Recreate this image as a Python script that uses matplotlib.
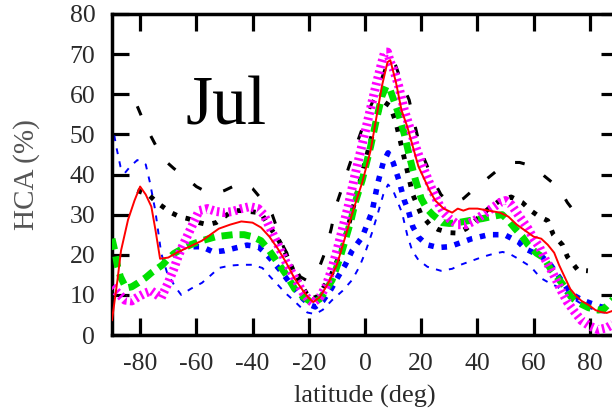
import matplotlib
matplotlib.use("Agg")
import matplotlib.pyplot as plt

plt.rcParams['font.family'] = ['Liberation Serif', 'DejaVu Serif']
plt.rcParams['axes.unicode_minus'] = False

# --- zonal-mean high-cloud amount, July ---
red_lat = [-90, -88, -86.8, -84.3, -82, -80, -78, -76, -74.5, -72.9, -70, -67, -64, -61,
           -58, -55, -52, -48, -44, -40, -37, -34, -31, -28, -25, -22, -20, -18.4, -16,
           -13, -10, -7, -4, -1, 2, 4, 6, 8, 9, 11, 13, 15, 17, 19, 21, 23, 25, 28, 31,
           33, 35, 37, 40, 44, 48, 51, 54, 57, 60, 62.7, 65, 67.3, 69, 71, 73, 75, 77,
           79.5, 82, 84, 86, 88, 90]
red_val = [3.7, 14, 21, 28.7, 33.5, 37, 35, 32, 26, 19, 19.3, 20.5, 21.5, 22.5,
           23.5, 25, 26.5, 27.5, 28.3, 28, 26.8, 24.5, 21.5, 18, 14, 11, 9.2, 8.2, 9.5,
           13, 17.5, 24.5, 31.5, 38, 46, 54, 62, 68, 68.5, 63, 56, 52, 47, 42, 39, 36,
           33.5, 31.5, 30.5, 31.5, 31, 31.5, 31.5, 31, 30.5, 29.5, 27.5, 26, 24.5, 24,
           22.5, 20.5, 17.5, 14.5, 11.5, 9.8, 8.5, 7.5, 6.2, 5.7, 5.5, 6, 6.5]

mag_lat = [-90, -88, -85.4, -83, -80.7, -78, -76, -74, -72.5, -70, -68, -66.5, -65, -63,
           -61, -59, -56, -53, -50, -47, -44, -41, -38, -36, -34, -32, -30, -28, -26,
           -24, -22, -20, -18.5, -16, -14, -12, -10, -8, -6, -4, -2, 0, 2, 4, 6, 7, 8,
           9, 10, 12, 14, 16, 18, 20, 22, 24, 26, 28, 30, 33, 36, 39, 42, 45, 48, 50,
           52, 54, 56, 58, 60, 62, 64, 66, 68, 70, 72, 74.5, 77, 80, 83, 86, 88, 90]
mag_val = [12, 10.5, 8.7, 8.5, 9.5, 10.5, 11, 10, 9.3, 13, 16.5, 19.5, 22, 25,
           28, 31, 31.5, 30.8, 30.5, 30.8, 31.5, 32, 31.5, 30, 27, 24, 21, 18, 15.5,
           13, 10.5, 8.8, 8, 9.5, 12, 16, 21, 26.5, 32, 38.5, 44.5, 50.5, 56.5, 62.5,
           68, 70.5, 70.5, 68, 66.5, 62, 56, 51.5, 47, 43, 39.5, 36, 33, 30.5, 29,
           27.5, 27.5, 28.5, 30, 31.5, 33, 33.5, 32.5, 30.5, 28.5, 26.5, 24, 22, 19,
           16.5, 13.8, 10.8, 8.2, 5.8, 3.6, 2.2, 1.3, 1.8, 2.6, 3.5]

grn_lat = [-90, -89, -88, -87, -85, -83, -80.7, -78, -76, -74, -72, -70, -68, -65, -62,
           -58, -53, -47, -43, -40, -37, -34, -31, -28, -25, -22, -20, -18.6, -16, -14,
           -11.7, -9, -7, -5, -3.5, -1, 2, 4, 6, 7.5, 9, 10.5, 12, 14, 16, 18, 20, 22,
           24, 27.5, 30, 33, 37, 41.7, 45, 48.8, 51, 53.4, 56, 58, 61, 63.7, 66, 68.5,
           71, 73.3, 76, 79.5, 83, 85, 87, 89, 90]
grn_val = [24, 21, 17, 14.5, 11.7, 12, 13, 14.3, 15.5, 16.5, 17.5, 19, 20.3, 21.5, 22.5,
           23.5, 24.5, 25, 25, 24.5, 23.5, 21, 18, 15, 11.5, 9.5, 8.6, 8, 9, 11,
           13.7, 19, 23.7, 28.5, 33, 38.6, 47, 53.5, 59.5, 62, 61, 58, 55, 50, 44, 38.5,
           34, 31.5, 30, 28, 27.8, 28, 28.5, 29, 29.5, 30, 28.5, 26.5, 24.5, 22.5, 20.4,
           19.2, 16.5, 14.3, 12, 9.5, 8, 6.8, 6.2, 6.5, 8, 9.5, 10]

bth_lat = [-61, -58, -54, -50, -46, -42, -38, -36, -33, -30, -27.5, -25, -22, -19.5,
           -17.7, -15, -12, -9.6, -7, -4.6, -1, 1, 2.5, 4.6, 6.5, 8.2, 10, 12, 14, 15.4,
           17, 19, 22, 26, 30, 34, 38, 44, 49.6, 54.6, 57, 60, 63, 66, 68, 70, 72, 74,
           77, 80, 84, 87, 90]
bth_val = [22, 22, 20.7, 21, 21.7, 22.4, 22, 20.8, 18.5, 16, 13.7, 11.5, 9, 7.5,
           7, 8.5, 11.5, 14.5, 17.5, 21, 24.4, 28, 30.7, 38, 43, 45.4, 43, 38.7, 33.5,
           31, 27, 24.4, 22.5, 21.8, 22, 23, 24, 25, 25, 23.2, 21.5, 20.5, 19.5, 17.5,
           15.5, 13.5, 11.5, 10, 8.8, 8, 7, 6.8, 7]

btn_lat = [-90, -88.5, -87, -85.4, -83.5, -81, -78, -76.5, -74.6, -72.5, -70.4, -67.5,
           -65.4, -62, -58, -55, -52, -48, -44, -40, -36.5, -33.7, -31, -28.4, -25.5,
           -23, -20.5, -17.7, -15, -11.7, -8, -4.6, -2, 0, 2.5, 4.6, 6.5, 8.2, 10, 13.2,
           15, 16.8, 19, 22.2, 27, 31, 34, 38, 42, 46, 49, 52, 54, 59, 62.5, 65.5, 68.5,
           73, 76, 79, 83.8, 87, 90]
btn_val = [53, 47, 42, 40.4, 42, 43.6, 42.5, 38, 31, 20.4, 15.5, 12,
           10, 11.5, 13, 14.8, 16.7, 17.3, 17.5, 17.5, 16.7, 14.5, 12.5, 10.5, 8.7,
           7, 5.6, 5.2, 6.3, 8.7, 11, 13.7, 17, 20.4, 25.5, 30.4, 35, 37.5, 36, 30.4,
           25, 21, 18.7, 17, 16, 16.5, 17.5, 18.5, 19.5, 20.3, 20.7, 20, 19.2, 17, 14.2,
           13, 12, 9.5, 8.2, 7, 5.7, 5.5, 5.5]

kda_lat = [-81, -78, -75, -72, -68, -64, -60, -56, -53, -50, -47, -43.6, -40, -37, -35,
           -33, -31, -29, -26, -23, -21, -19, -17, -14, -12, -10.4, -8, -5.7, -3, -0.7,
           2, 3.9, 6, 8, 9.3, 11, 13, 15.7, 17.5, 19, 21, 24, 27, 30, 32, 35, 39, 43,
           47, 51.4, 55, 60, 64, 68.9, 72, 76.4]
kda_val = [57, 52, 48, 44, 41.5, 39.4, 37, 35.5, 35.3, 36, 37, 38, 36.5, 34, 32.5,
           30, 26, 22, 18, 14.5, 13.7, 14, 15.5, 21, 26.5, 32, 37, 42, 47.5, 52,
           57, 60, 64, 68, 69.3, 67, 63, 58.6, 53, 48.6, 44, 39, 35, 33, 33, 34, 36.5,
           38.7, 41, 43, 43, 42, 39.5, 36.7, 33, 29]

kdo_lat = [-81, -77, -74, -72, -69, -66, -63, -59, -56, -53, -50, -47, -44, -40, -37,
           -34, -31, -28, -25.5, -23, -21, -19, -17, -15, -12, -9, -6, -3, 0, 3, 5, 7,
           9, 11, 13, 15, 17, 20, 23, 26, 30, 33, 36, 40, 44, 48, 52, 56, 59, 62, 65,
           67, 70.3, 72, 75.7, 79.3]
kdo_val = [36, 35, 33, 32, 30.5, 29.5, 29, 28, 27.5, 28, 29.5, 31, 31, 30.7, 30.4,
           27, 24, 20, 16, 13, 10.5, 9, 9.5, 11.5, 15, 20, 27, 35, 43, 51, 56, 58,
           57, 53, 47, 41, 35, 30, 27.5, 26.3, 25.5, 25.4, 26.5, 29, 31.5, 33.5, 34.4,
           33, 31, 29.5, 28.5, 25, 22.4, 19.5, 16.2, 16]

month_label = "Jul"
xticks = [-80, -60, -40, -20, 0, 20, 40, 60, 80]
yticks = [0, 10, 20, 30, 40, 50, 60, 70, 80]

W, H = 612, 408
fig = plt.figure(figsize=(W / 100, H / 100), dpi=100)
ax = fig.add_axes([112 / W, 73 / H, 506 / W, 321 / H])

ax.plot(btn_lat, btn_val, color='#0000ff', lw=1.4, dashes=(3.0, 3.8), zorder=2)
ax.plot(bth_lat, bth_val, color='#0000ff', lw=4.0, dashes=(1.0, 1.4), zorder=3)
ax.plot(kda_lat, kda_val, color='black', lw=2.2, dashes=(3.2, 7.5), zorder=3)
ax.plot(kdo_lat, kdo_val, color='black', lw=3.5, dashes=(1.0, 1.9), zorder=3)
ax.plot(grn_lat, grn_val, color='#00e000', lw=5.0, dashes=(1.6, 1.0), zorder=4)
ax.plot(mag_lat, mag_val, color='#ff00ff', lw=6.5, dashes=(0.28, 0.38), zorder=5)
ax.plot(red_lat, red_val, color='#ff0000', lw=1.4, zorder=6)

ax.set_xlim(-90, 90)
ax.set_ylim(0, 80)
ax.set_xticks(xticks)
ax.set_yticks(yticks)

for sp in ax.spines.values():
    sp.set_linewidth(2.5)

ax.tick_params(axis='both', which='major', direction='in', length=12.5, width=2.3,
               top=True, right=True, labelsize=18.5, labelcolor='#2a2a2a')
ax.tick_params(axis='x', pad=13)
ax.tick_params(axis='y', pad=12)

ax.set_xlabel('latitude (deg)', fontsize=19, color='#2a2a2a', va='center')
ax.xaxis.set_label_coords(0.5, -0.19)
ax.set_ylabel('HCA (%)', fontsize=21, color='#555555', va='center')
ax.yaxis.set_label_coords(-0.168, 0.5)

ax.text(-64, 52.4, month_label, fontsize=50, color='black', ha='left', va='baseline')

fig.savefig('out.png', dpi=100)
